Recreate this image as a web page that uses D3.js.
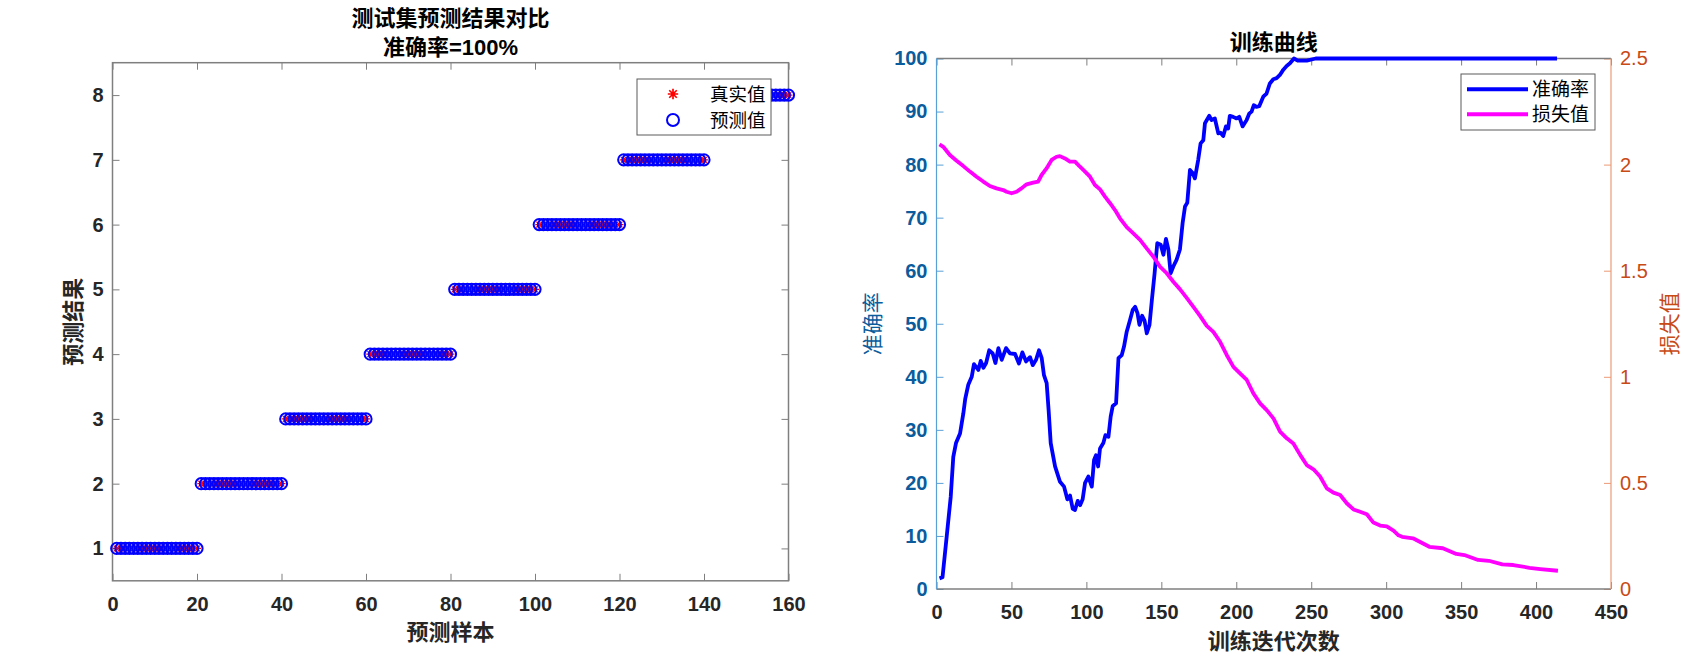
<!DOCTYPE html>
<html>
<head>
<meta charset="utf-8">
<script src="https://cdn.jsdelivr.net/npm/d3@7"></script>
<style>
body { margin: 0; background: #fff; }
text { font-family: "Liberation Sans", Arial, "Noto Sans CJK SC", sans-serif; }
</style>
</head>
<body>
<script>
//whole page in a self-executing function to keep things local
(function(){

	//test set labels, 160 samples, 20 per class
	var trueLabels = [
		1,1,1,1,1,1,1,1,1,1,1,1,1,1,1,1,1,1,1,1,
		2,2,2,2,2,2,2,2,2,2,2,2,2,2,2,2,2,2,2,2,
		3,3,3,3,3,3,3,3,3,3,3,3,3,3,3,3,3,3,3,3,
		4,4,4,4,4,4,4,4,4,4,4,4,4,4,4,4,4,4,4,4,
		5,5,5,5,5,5,5,5,5,5,5,5,5,5,5,5,5,5,5,5,
		6,6,6,6,6,6,6,6,6,6,6,6,6,6,6,6,6,6,6,6,
		7,7,7,7,7,7,7,7,7,7,7,7,7,7,7,7,7,7,7,7,
		8,8,8,8,8,8,8,8,8,8,8,8,8,8,8,8,8,8,8,8];
	//predictions (accuracy is 100% so they match)
	var predLabels = [
		1,1,1,1,1,1,1,1,1,1,1,1,1,1,1,1,1,1,1,1,
		2,2,2,2,2,2,2,2,2,2,2,2,2,2,2,2,2,2,2,2,
		3,3,3,3,3,3,3,3,3,3,3,3,3,3,3,3,3,3,3,3,
		4,4,4,4,4,4,4,4,4,4,4,4,4,4,4,4,4,4,4,4,
		5,5,5,5,5,5,5,5,5,5,5,5,5,5,5,5,5,5,5,5,
		6,6,6,6,6,6,6,6,6,6,6,6,6,6,6,6,6,6,6,6,
		7,7,7,7,7,7,7,7,7,7,7,7,7,7,7,7,7,7,7,7,
		8,8,8,8,8,8,8,8,8,8,8,8,8,8,8,8,8,8,8,8];

	var sampleTicks = [0, 20, 40, 60, 80, 100, 120, 140, 160];
	var classTicks = [1, 2, 3, 4, 5, 6, 7, 8];

	//training curve, [iteration, accuracy %]
	var accuracyPts = [[2,2],[4,2.2],[6.8,9.9],[9.5,17.4],[11.2,24.9],[13,27.5],[15.7,29.3],[17.9,33.1],[19.2,35.9],[21.2,38.5],
		[23.5,40],[25,42.4],[27.9,41.3],[29.5,43],[31.3,41.7],[33.1,42.6],[35.2,45],[37.5,44.4],[39.3,42.6],[41.3,45.4],
		[43.5,43.2],[46.4,45.4],[49,44.4],[52.4,44.3],[55,42.5],[57.3,44.6],[59.7,42.9],[62.4,43.7],[64.2,42.2],[66.4,43.2],
		[68.4,45],[70.2,43.5],[71.7,40.3],[73.5,38.8],[74.8,33.7],[76.2,27.5],[79.1,23.1],[82.4,20.2],[85.1,19.3],[87.3,16.9],
		[89.1,17.6],[90.9,15.1],[92.4,14.9],[94.2,16.6],[95.8,15.8],[97.5,16.9],[99.1,20],[101.3,21.2],[103.6,19.3],[105.1,24.3],
		[106.4,25.2],[107.8,23.1],[109.1,26.5],[111.3,27.5],[112.7,29],[114.7,28.7],[116.2,32.5],[117.6,34.5],[119.8,35],[121.4,43.5],
		[123.6,44.1],[125.1,45.7],[126.9,48.5],[129.1,50.7],[130.9,52.6],[132.5,53.2],[134.1,52],[135.4,49.8],[137.2,51.5],[138.8,50.6],
		[140.3,48.2],[142.1,49.8],[143.7,54.5],[145.5,59.5],[147.3,65.2],[149.6,64.9],[151.4,63],[153.1,66],[154.7,64],[156.2,59.5],
		[158,60.8],[160.2,62.1],[162.4,64],[164.2,69],[165.8,72.1],[167.3,72.8],[169.1,79],[170.9,78.4],[172.4,77.4],[174.6,80.9],
		[176.2,84],[178,84.6],[179.1,87.8],[182,89.2],[183.5,88.4],[185.7,88.7],[188,85.9],[189.5,86],[191.3,85.4],[193.1,87.2],
		[194.6,86.8],[195.7,89.2],[197.9,89],[200.2,88.7],[202,89],[204.2,87.2],[206.9,88.4],[208.6,89.6],[210.2,90],[211.7,91.2],
		[213.5,90.9],[215.3,91],[218,92.8],[220.2,93.4],[222.4,95.3],[224.7,96.1],[226.9,96.3],[229.1,96.9],[231.4,97.9],[233.6,98.6],
		[235.8,99.1],[238.5,100],[241,99.6],[247,99.6],[253,100],[414,100]];

	//training curve, [iteration, loss]
	var lossPts = [[2,2.095],[4.5,2.084],[8.9,2.045],[13.4,2.018],[17.9,1.993],[22.3,1.967],[26.7,1.943],[31.2,1.92],[35.6,1.899],[40,1.888],
		[44.5,1.88],[46.7,1.872],[50.1,1.865],[53.4,1.872],[56.7,1.888],[60.1,1.907],[64.5,1.915],[67.8,1.92],[70.1,1.951],[73.4,1.982],
		[76.8,2.022],[80.1,2.037],[82.3,2.04],[85.7,2.029],[89,2.014],[92.4,2.014],[95.7,1.99],[99.1,1.967],[102.4,1.943],[105.7,1.904],
		[109.1,1.883],[112.4,1.849],[115.8,1.818],[119.1,1.786],[122.4,1.747],[126.9,1.705],[131.3,1.676],[135.8,1.645],[140.2,1.605],[144.7,1.566],
		[149.1,1.519],[153.6,1.488],[158,1.448],[162.5,1.412],[166.9,1.372],[171.4,1.33],[175.8,1.287],[180.3,1.24],[184.7,1.212],[189.2,1.165],
		[193.6,1.103],[198.1,1.047],[202.5,1.016],[207,0.985],[211.4,0.922],[215.9,0.875],[220.3,0.843],[224.8,0.804],[229.2,0.742],[233.7,0.71],
		[238.1,0.686],[242.6,0.632],[247,0.584],[251.5,0.564],[255.9,0.53],[260.4,0.474],[264.8,0.454],[269.3,0.443],[273.7,0.404],[278.2,0.375],
		[282.6,0.364],[287.1,0.352],[291.5,0.313],[296,0.299],[300.4,0.295],[304.9,0.275],[308.2,0.253],[310.7,0.246],[317.9,0.239],[328.8,0.199],
		[337.8,0.192],[346.8,0.165],[352.2,0.16],[361.3,0.137],[368.5,0.133],[377.5,0.116],[384.8,0.113],[395.6,0.1],[402.8,0.094],[414.6,0.086]];

	var iterTicks = [0, 50, 100, 150, 200, 250, 300, 350, 400, 450];
	var accTicks = [0, 10, 20, 30, 40, 50, 60, 70, 80, 90, 100];
	var lossTicks = [0, 0.5, 1, 1.5, 2, 2.5];

	var frameColor = "#7f7f7f",
		accAxisColor = "#0072BD",
		lossAxisColor = "#D95319";

	var svg = d3.select("body")
		.append("svg")
		.attr("width", 1696)
		.attr("height", 663);

	//styles the tick text of an axis group
	function styleAxis(g, color, size){
		g.attr("font-family", null).attr("font-size", null);
		g.select(".domain").remove();
		g.selectAll(".tick line").attr("stroke", color);
		g.selectAll(".tick text")
			.attr("fill", color)
			.attr("font-size", size)
			.attr("font-weight", "bold");
	};

	setLeft();
	setRight();

	//left panel: test set prediction comparison
	function setLeft(){
		var x = d3.scaleLinear().domain([0, 160]).range([112.5, 788.5]);
		var y = d3.scaleLinear().domain([0.5, 8.5]).range([580.8, 62.7]);
		var g = svg.append("g");

		var bottom = g.append("g")
			.attr("transform", "translate(0," + y.range()[0] + ")")
			.call(d3.axisBottom(x).tickValues(sampleTicks).tickSize(-7).tickSizeOuter(0).tickPadding(16));
		styleAxis(bottom, "#262626", 20);
		bottom.selectAll(".tick line").attr("stroke", frameColor);

		var top = g.append("g")
			.attr("transform", "translate(0," + y.range()[1] + ")")
			.call(d3.axisTop(x).tickValues(sampleTicks).tickSize(-7).tickSizeOuter(0).tickFormat(""));
		styleAxis(top, frameColor, 20);

		var left = g.append("g")
			.attr("transform", "translate(" + x.range()[0] + ",0)")
			.call(d3.axisLeft(y).tickValues(classTicks).tickSize(-7).tickSizeOuter(0).tickPadding(9));
		styleAxis(left, "#262626", 20);
		left.selectAll(".tick line").attr("stroke", frameColor);

		var right = g.append("g")
			.attr("transform", "translate(" + x.range()[1] + ",0)")
			.call(d3.axisRight(y).tickValues(classTicks).tickSize(-7).tickSizeOuter(0).tickFormat(""));
		styleAxis(right, frameColor, 20);

		//axes box
		g.append("rect")
			.attr("x", x.range()[0])
			.attr("y", y.range()[1])
			.attr("width", x.range()[1] - x.range()[0])
			.attr("height", y.range()[0] - y.range()[1])
			.attr("fill", "none")
			.attr("stroke", frameColor)
			.attr("stroke-width", 1.5);

		//true values as red asterisks
		var star = "M-4,0L4,0M0,-4L0,4M-2.9,-2.9L2.9,2.9M-2.9,2.9L2.9,-2.9";
		g.selectAll(".truth")
			.data(trueLabels)
			.enter()
			.append("path")
			.attr("class", "truth")
			.attr("transform", function(d, i){ return "translate(" + x(i + 1) + "," + y(d) + ")"; })
			.attr("d", star)
			.attr("stroke", "#ff0000")
			.attr("stroke-width", 1.1)
			.attr("fill", "none");

		//predicted values as blue circles
		g.selectAll(".pred")
			.data(predLabels)
			.enter()
			.append("circle")
			.attr("class", "pred")
			.attr("cx", function(d, i){ return x(i + 1); })
			.attr("cy", function(d){ return y(d); })
			.attr("r", 5.6)
			.attr("fill", "none")
			.attr("stroke", "#0000ff")
			.attr("stroke-width", 2);

		//titles and labels
		var cx = (x.range()[0] + x.range()[1]) / 2;
		g.append("text").attr("x", cx).attr("y", 26).attr("text-anchor", "middle")
			.attr("font-size", 22).attr("font-weight", "bold").text("测试集预测结果对比");
		g.append("text").attr("x", cx).attr("y", 55).attr("text-anchor", "middle")
			.attr("font-size", 22).attr("font-weight", "bold").text("准确率=100%");
		g.append("text").attr("x", cx).attr("y", 640).attr("text-anchor", "middle")
			.attr("font-size", 22).attr("font-weight", "bold").attr("fill", "#262626").text("预测样本");
		g.append("text")
			.attr("transform", "translate(81," + ((y.range()[0] + y.range()[1]) / 2) + ") rotate(-90)")
			.attr("text-anchor", "middle")
			.attr("font-size", 22).attr("font-weight", "bold").attr("fill", "#262626").text("预测结果");

		//legend
		var lg = g.append("g");
		lg.append("rect").attr("x", 637).attr("y", 79).attr("width", 134).attr("height", 56)
			.attr("fill", "#fff").attr("stroke", "#5a5a5a").attr("stroke-width", 1);
		lg.append("path").attr("transform", "translate(673,94) scale(1.3)").attr("d", star)
			.attr("stroke", "#ff0000").attr("stroke-width", 1.3).attr("fill", "none");
		lg.append("circle").attr("cx", 673).attr("cy", 120).attr("r", 6)
			.attr("fill", "none").attr("stroke", "#0000ff").attr("stroke-width", 2);
		lg.append("text").attr("x", 710).attr("y", 100.5).attr("font-size", 18.5).text("真实值");
		lg.append("text").attr("x", 710).attr("y", 126.5).attr("font-size", 18.5).text("预测值");
	};

	//right panel: training curves on two y axes
	function setRight(){
		var x = d3.scaleLinear().domain([0, 450]).range([936.5, 1611]);
		var yAcc = d3.scaleLinear().domain([0, 100]).range([589, 58.5]);
		var yLoss = d3.scaleLinear().domain([0, 2.5]).range([589, 58.5]);
		var g = svg.append("g");

		var bottom = g.append("g")
			.attr("transform", "translate(0," + yAcc.range()[0] + ")")
			.call(d3.axisBottom(x).tickValues(iterTicks).tickSize(-7).tickSizeOuter(0).tickPadding(16));
		styleAxis(bottom, "#262626", 20);
		bottom.selectAll(".tick line").attr("stroke", frameColor);

		var top = g.append("g")
			.attr("transform", "translate(0," + yAcc.range()[1] + ")")
			.call(d3.axisTop(x).tickValues(iterTicks).tickSize(-7).tickSizeOuter(0).tickFormat(""));
		styleAxis(top, frameColor, 20);

		var left = g.append("g")
			.attr("transform", "translate(" + x.range()[0] + ",0)")
			.call(d3.axisLeft(yAcc).tickValues(accTicks).tickSize(-7).tickSizeOuter(0).tickPadding(9));
		styleAxis(left, accAxisColor, 20);
		left.selectAll(".tick text").attr("fill", "#0a5c9c");
		left.selectAll(".tick line").attr("stroke", "#5aa0d6");

		var right = g.append("g")
			.attr("transform", "translate(" + x.range()[1] + ",0)")
			.call(d3.axisRight(yLoss).tickValues(lossTicks).tickSize(-7).tickSizeOuter(0).tickPadding(9)
				.tickFormat(function(d){ return String(d); }));
		styleAxis(right, lossAxisColor, 20);
		right.selectAll(".tick text").attr("fill", "#c84a14").attr("font-weight", "normal");
		right.selectAll(".tick line").attr("stroke", "#eb9a76");

		//frame: grey top and bottom, coloured sides
		var x0 = x.range()[0], x1 = x.range()[1], y0 = yAcc.range()[0], y1 = yAcc.range()[1];
		g.append("line").attr("x1", x0).attr("x2", x1).attr("y1", y0).attr("y2", y0)
			.attr("stroke", frameColor).attr("stroke-width", 1.5);
		g.append("line").attr("x1", x0).attr("x2", x1).attr("y1", y1).attr("y2", y1)
			.attr("stroke", frameColor).attr("stroke-width", 1.5);
		g.append("line").attr("x1", x0).attr("x2", x0).attr("y1", y0).attr("y2", y1)
			.attr("stroke", "#5aa0d6").attr("stroke-width", 1.2);
		g.append("line").attr("x1", x1).attr("x2", x1).attr("y1", y0).attr("y2", y1)
			.attr("stroke", "#eb9a76").attr("stroke-width", 1.2);

		var accLine = d3.line()
			.x(function(d){ return x(d[0]); })
			.y(function(d){ return yAcc(d[1]); });
		var lossLine = d3.line()
			.x(function(d){ return x(d[0]); })
			.y(function(d){ return yLoss(d[1]); });

		g.append("path").datum(accuracyPts)
			.attr("d", accLine)
			.attr("fill", "none")
			.attr("stroke", "#0000ff")
			.attr("stroke-width", 3.8)
			.attr("stroke-linejoin", "round");
		g.append("path").datum(lossPts)
			.attr("d", lossLine)
			.attr("fill", "none")
			.attr("stroke", "#ff00ff")
			.attr("stroke-width", 3.8)
			.attr("stroke-linejoin", "round");

		//titles and labels
		var cx = (x0 + x1) / 2;
		g.append("text").attr("x", cx).attr("y", 50).attr("text-anchor", "middle")
			.attr("font-size", 22).attr("font-weight", "bold").text("训练曲线");
		g.append("text").attr("x", cx).attr("y", 649).attr("text-anchor", "middle")
			.attr("font-size", 22).attr("font-weight", "bold").attr("fill", "#262626").text("训练迭代次数");
		g.append("text")
			.attr("transform", "translate(880," + ((y0 + y1) / 2) + ") rotate(-90)")
			.attr("text-anchor", "middle")
			.attr("font-size", 21).attr("fill", "#0a5c9c").text("准确率");
		g.append("text")
			.attr("transform", "translate(1677," + ((y0 + y1) / 2) + ") rotate(-90)")
			.attr("text-anchor", "middle")
			.attr("font-size", 21).attr("fill", "#c84a14").text("损失值");

		//legend
		var lg = g.append("g");
		lg.append("rect").attr("x", 1461).attr("y", 74).attr("width", 134).attr("height", 56)
			.attr("fill", "#fff").attr("stroke", "#5a5a5a").attr("stroke-width", 1);
		lg.append("line").attr("x1", 1467).attr("x2", 1528).attr("y1", 89.3).attr("y2", 89.3)
			.attr("stroke", "#0000ff").attr("stroke-width", 4);
		lg.append("line").attr("x1", 1467).attr("x2", 1528).attr("y1", 114.3).attr("y2", 114.3)
			.attr("stroke", "#ff00ff").attr("stroke-width", 4);
		lg.append("text").attr("x", 1532).attr("y", 96).attr("font-size", 19).text("准确率");
		lg.append("text").attr("x", 1532).attr("y", 121).attr("font-size", 19).text("损失值");
	};

})();
</script>
</body>
</html>
